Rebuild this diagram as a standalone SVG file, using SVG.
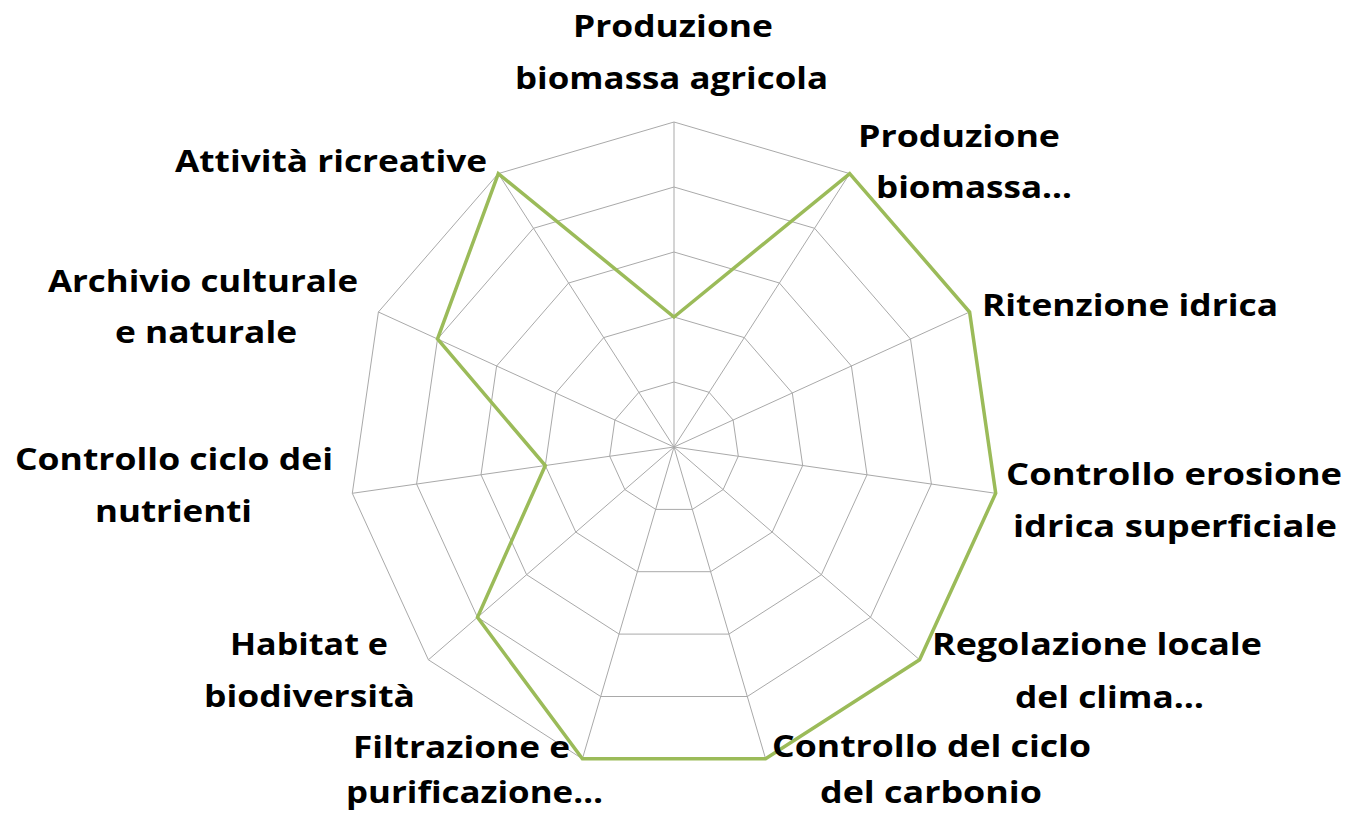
<svg xmlns="http://www.w3.org/2000/svg" width="1353" height="816" viewBox="0 0 1353 816">
<style>
.grid{fill:none;stroke:#a9a9a9;stroke-width:1}
.series{fill:none;stroke:#9bbb59;stroke-width:3.5;stroke-linejoin:miter}
.lbl{font-family:"Open Sans","Noto Sans","Liberation Sans",sans-serif;font-weight:700;font-size:31px;fill:#000}
</style>
<rect width="1353" height="816" fill="#fff"/>
<g id="grid">
<polygon class="grid" points="674,122 849.7,173.6 969.6,312 995.7,493.3 919.6,659.8 765.6,758.8 582.4,758.8 428.4,659.8 352.3,493.3 378.4,312 498.3,173.6"/>
<polygon class="grid" points="674,187 814.6,228.3 910.5,339 931.4,484 870.5,617.3 747.3,696.5 600.7,696.5 477.5,617.3 416.6,484 437.5,339 533.4,228.3"/>
<polygon class="grid" points="674,252 779.4,283 851.4,366 867,474.8 821.4,574.7 728.9,634.1 619.1,634.1 526.6,574.7 481,474.8 496.6,366 568.6,283"/>
<polygon class="grid" points="674,317 744.3,337.6 792.3,393 802.7,465.5 772.2,532.1 710.6,571.7 637.4,571.7 575.8,532.1 545.3,465.5 555.7,393 603.7,337.6"/>
<polygon class="grid" points="674,382 709.1,392.3 733.1,420 738.3,456.2 723.1,489.6 692.3,509.4 655.7,509.4 624.9,489.6 609.7,456.2 614.9,420 638.9,392.3"/>
<path class="grid" d="M674,447L674,122M674,447L849.7,173.6M674,447L969.6,312M674,447L995.7,493.3M674,447L919.6,659.8M674,447L765.6,758.8M674,447L582.4,758.8M674,447L428.4,659.8M674,447L352.3,493.3M674,447L378.4,312M674,447L498.3,173.6"/>
</g>
<g id="connectors">
<polygon class="series" points="674,317 849.7,173.6 969.6,312 995.7,493.3 919.6,659.8 765.6,758.8 582.4,758.8 477.5,617.3 545.3,465.5 437.5,339 498.3,173.6"/>
</g>
<g id="label-produzione-agricola">
<text class="lbl" x="573" y="37" textLength="200" lengthAdjust="spacingAndGlyphs">Produzione</text>
<text class="lbl" x="515" y="89" textLength="313" lengthAdjust="spacingAndGlyphs">biomassa agricola</text>
</g>
<g id="label-produzione-biomassa">
<text class="lbl" x="858" y="147" textLength="202" lengthAdjust="spacingAndGlyphs">Produzione</text>
<text class="lbl" x="876" y="198" textLength="196" lengthAdjust="spacingAndGlyphs">biomassa…</text>
</g>
<g id="label-ritenzione">
<text class="lbl" x="982" y="316" textLength="296" lengthAdjust="spacingAndGlyphs">Ritenzione idrica</text>
</g>
<g id="label-erosione">
<text class="lbl" x="1006" y="485" textLength="336" lengthAdjust="spacingAndGlyphs">Controllo erosione</text>
<text class="lbl" x="1013" y="537" textLength="324" lengthAdjust="spacingAndGlyphs">idrica superficiale</text>
</g>
<g id="label-clima">
<text class="lbl" x="932" y="655" textLength="330" lengthAdjust="spacingAndGlyphs">Regolazione locale</text>
<text class="lbl" x="1015" y="708" textLength="189" lengthAdjust="spacingAndGlyphs">del clima…</text>
</g>
<g id="label-carbonio">
<text class="lbl" x="772" y="757" textLength="319" lengthAdjust="spacingAndGlyphs">Controllo del ciclo</text>
<text class="lbl" x="820" y="803" textLength="222" lengthAdjust="spacingAndGlyphs">del carbonio</text>
</g>
<g id="label-filtrazione">
<text class="lbl" x="353" y="758" textLength="217" lengthAdjust="spacingAndGlyphs">Filtrazione e</text>
<text class="lbl" x="346" y="803" textLength="257" lengthAdjust="spacingAndGlyphs">purificazione…</text>
</g>
<g id="label-habitat">
<text class="lbl" x="230" y="655" textLength="158" lengthAdjust="spacingAndGlyphs">Habitat e</text>
<text class="lbl" x="204" y="707" textLength="211" lengthAdjust="spacingAndGlyphs">biodiversità</text>
</g>
<g id="label-nutrienti">
<text class="lbl" x="15" y="470" textLength="318" lengthAdjust="spacingAndGlyphs">Controllo ciclo dei</text>
<text class="lbl" x="95" y="522" textLength="157" lengthAdjust="spacingAndGlyphs">nutrienti</text>
</g>
<g id="label-archivio">
<text class="lbl" x="48" y="292" textLength="310" lengthAdjust="spacingAndGlyphs">Archivio culturale</text>
<text class="lbl" x="115" y="343" textLength="182" lengthAdjust="spacingAndGlyphs">e naturale</text>
</g>
<g id="label-attivita">
<text class="lbl" x="175" y="172" textLength="312" lengthAdjust="spacingAndGlyphs">Attività ricreative</text>
</g>
</svg>
